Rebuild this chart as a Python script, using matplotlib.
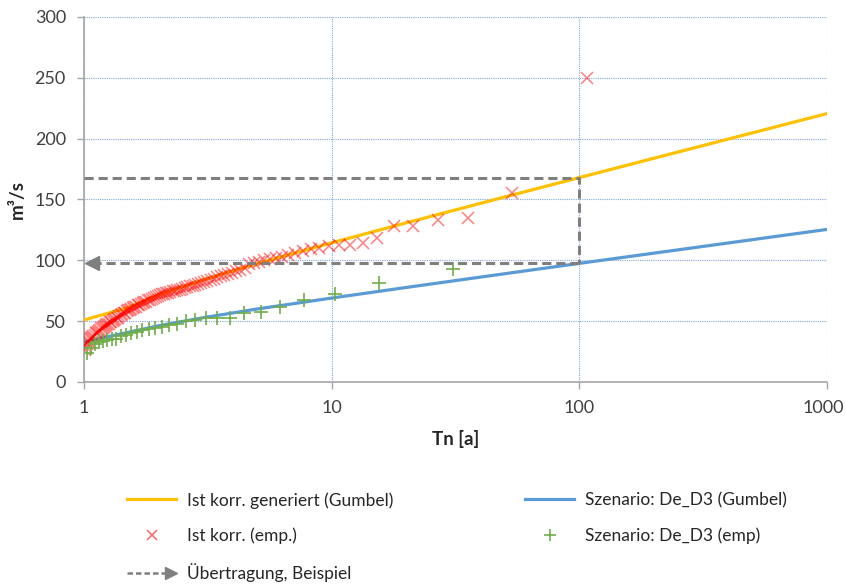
import matplotlib.pyplot as plt
from matplotlib.lines import Line2D
from matplotlib.legend_handler import HandlerBase
from matplotlib.ticker import FixedLocator, NullLocator
from matplotlib.transforms import offset_copy

plt.rcParams['font.family'] = ['Lato', 'DejaVu Sans']

# Gumbel-Anpassung (Jährlichkeit -> Abfluss)
T_gumbel = [1, 1.5, 2, 3, 5, 10, 20, 50, 100, 200, 500, 1000]
Q_ist_gumbel = [51, 61, 71.5, 83.7, 97.3, 114.4, 130.8, 152.1, 168, 183.9, 204.8, 220.6]
Q_szen_gumbel = [33, 40.7, 46.2, 52.7, 60, 69, 77.7, 89, 97.5, 105.9, 117, 125.4]

# empirische Werte Ist korr.
T_ist_emp = [107.0, 53.5, 35.667, 26.75, 21.4, 17.833, 15.286, 13.375, 11.889, 10.7,
             9.727, 8.917, 8.231, 7.643, 7.133, 6.688, 6.294, 5.944, 5.632, 5.35,
             5.095, 4.864, 4.652, 4.458, 4.28, 4.115, 3.963, 3.821, 3.69, 3.567,
             3.452, 3.344, 3.242, 3.147, 3.057, 2.972, 2.892, 2.816, 2.744, 2.675,
             2.61, 2.548, 2.488, 2.432, 2.378, 2.326, 2.277, 2.229, 2.184, 2.14,
             2.098, 2.058, 2.019, 1.981, 1.945, 1.911, 1.877, 1.845, 1.814, 1.783,
             1.754, 1.726, 1.698, 1.672, 1.646, 1.621, 1.597, 1.574, 1.551, 1.529,
             1.507, 1.486, 1.466, 1.446, 1.427, 1.408, 1.39, 1.372, 1.354, 1.338,
             1.321, 1.305, 1.289, 1.274, 1.259, 1.244, 1.23, 1.216, 1.202, 1.189,
             1.176, 1.163, 1.151, 1.138, 1.126, 1.115, 1.103, 1.092, 1.081, 1.07,
             1.059, 1.049, 1.039, 1.029, 1.019, 1.009]
Q_ist_emp = [250, 155, 134.5, 133, 128.5, 128.5, 118.5, 114, 112.6, 112.5,
             112, 110.5, 109, 108, 106, 104.5, 103, 102, 101, 100,
             99, 98, 97, 94, 92, 91, 90, 89, 88, 87,
             86, 85, 84, 83, 82, 81, 80.5, 80, 79, 78.5,
             78, 77, 76.5, 76, 75.5, 75, 74.5, 74, 73.5, 73,
             72.5, 72, 71.5, 71, 70, 69, 68, 67.5, 67, 66,
             65.5, 65, 64, 63.5, 63, 62, 61.5, 61, 60, 59.5,
             59, 58, 57, 56.5, 56, 55, 54, 53, 52.5, 52,
             51, 50, 49.5, 49, 48, 47.5, 47, 46, 45, 44.5,
             44, 43, 42, 41, 40.5, 40, 39, 38, 37, 36,
             35, 34, 32.5, 31, 29, 26.5]

# empirische Werte Szenario De_D3
T_szen_emp = [31, 15.5, 10.333, 7.75, 6.2, 5.167, 4.429, 3.875, 3.444, 3.1,
              2.818, 2.583, 2.385, 2.214, 2.067, 1.938, 1.824, 1.722, 1.632, 1.55,
              1.476, 1.409, 1.348, 1.292, 1.24, 1.192, 1.148, 1.107, 1.069, 1.033]
Q_szen_emp = [92.6, 81, 72, 67, 61.5, 57.5, 56.5, 53, 53, 52.5,
              51, 50, 48, 47, 45.5, 44.5, 43.5, 42.5, 41, 40,
              38.5, 37.5, 35.5, 35, 34.5, 33.5, 32.5, 31, 28, 24]

# Übertragungsbeispiel HQ100
T_start = 1
T_transfer = 100
Q_from = 168
Q_to = 97.5
T_arrow_head = 1.075

ORANGE = '#FFC000'
BLUE = '#5B9BD5'
GRID = '#7FA9DC'
RED = '#FF0000'
GREEN = '#70AD47'
GREY = '#7F7F7F'
TEXT = '#404040'


class ArrowHandler(HandlerBase):
    def create_artists(self, legend, orig_handle, xdescent, ydescent,
                       width, height, fontsize, trans):
        y = height / 2 - ydescent
        x0 = -xdescent
        x1 = x0 + width
        shaft = Line2D([x0, x1 - 6], [y, y], color=GREY, lw=1.8,
                       linestyle=(0, (2.2, 1.2)))
        head = Line2D([x1 - 4], [y], color=GREY, marker='>', markersize=8,
                      linestyle='none')
        shaft.set_transform(trans)
        head.set_transform(trans)
        return [shaft, head]


fig = plt.figure(figsize=(8.46, 5.87), dpi=100)
ax = fig.add_axes([84 / 846, 1 - 382 / 587, (827 - 84) / 846, (382 - 17) / 587])

ax.plot(T_gumbel, Q_ist_gumbel, color=ORANGE, lw=2.3, zorder=3)
ax.plot(T_gumbel, Q_szen_gumbel, color=BLUE, lw=2.3, zorder=3)
ax.plot(T_ist_emp, Q_ist_emp, linestyle='none', marker='x', markersize=8,
        markeredgewidth=1.1, color=RED, alpha=0.5, zorder=4)
ax.plot(T_szen_emp, Q_szen_emp, linestyle='none', marker='+', markersize=10,
        markeredgewidth=1.2, color=GREEN, zorder=4)

dash = (0, (3.0, 1.6))
ax.plot([T_start, T_transfer, T_transfer], [Q_from, Q_from, Q_to],
        color=GREY, lw=2.2, linestyle=dash, zorder=5)
ax.plot([T_transfer, T_arrow_head * 1.03], [Q_to, Q_to],
        color=GREY, lw=2.2, linestyle=dash, zorder=5)
ax.plot([T_arrow_head], [Q_to], marker='<', markersize=10, color=GREY,
        linestyle='none', zorder=5)

ax.set_xscale('log')
ax.set_xlim(1, 1000)
ax.set_ylim(0, 300)
ax.xaxis.set_major_locator(FixedLocator([1, 10, 100, 1000]))
ax.xaxis.set_minor_locator(NullLocator())
ax.set_xticklabels(['1', '10', '100', '1000'])
ax.set_yticks(range(0, 301, 50))

ax.grid(True, which='major', color=GRID, linestyle=(0, (1.0, 1.0)), lw=0.8)
ax.set_axisbelow(True)
for side in ['top', 'right']:
    ax.spines[side].set_visible(False)
for side in ['left', 'bottom']:
    ax.spines[side].set_color('#A6A6A6')
    ax.spines[side].set_linewidth(1.2)
ax.tick_params(axis='both', colors='#A6A6A6', labelcolor=TEXT, labelsize=13,
               length=5, width=1)
ax.tick_params(axis='y', pad=8)
ax.tick_params(axis='x', pad=8)

# letzte Beschriftung etwas nach links, damit sie im Bild bleibt
last = ax.get_xticklabels()[-1]
last.set_transform(offset_copy(last.get_transform(), fig=fig, x=-4, units='dots'))

ax.set_xlabel('Tn [a]', fontsize=13.5, fontweight='bold', color='#262626', labelpad=10)
ax.set_ylabel('m³/s', fontsize=13.5, fontweight='bold', color='#262626', labelpad=6)

h_ist = Line2D([], [], color=ORANGE, lw=2.3)
h_szen = Line2D([], [], color=BLUE, lw=2.3)
h_ist_emp = Line2D([], [], linestyle='none', marker='x', markersize=7,
                   markeredgewidth=1.1, color=RED, alpha=0.6)
h_szen_emp = Line2D([], [], linestyle='none', marker='+', markersize=9,
                    markeredgewidth=1.2, color=GREEN)
h_arrow = Line2D([], [])

common = dict(loc='upper left', frameon=False, fontsize=12.5, handlelength=2.85,
              handletextpad=0.6, labelspacing=1.1, borderpad=0, borderaxespad=0,
              labelcolor='#262626')
fig.legend([h_ist, h_ist_emp, h_arrow],
           ['Ist korr. generiert (Gumbel)', 'Ist korr. (emp.)', 'Übertragung, Beispiel'],
           bbox_to_anchor=(127 / 846, 1 - 492 / 587),
           handler_map={h_arrow: ArrowHandler()}, **common)
fig.legend([h_szen, h_szen_emp],
           ['Szenario: De_D3 (Gumbel)', 'Szenario: De_D3 (emp)'],
           bbox_to_anchor=(525 / 846, 1 - 492 / 587), **common)

fig.savefig('out.png', dpi=100)
